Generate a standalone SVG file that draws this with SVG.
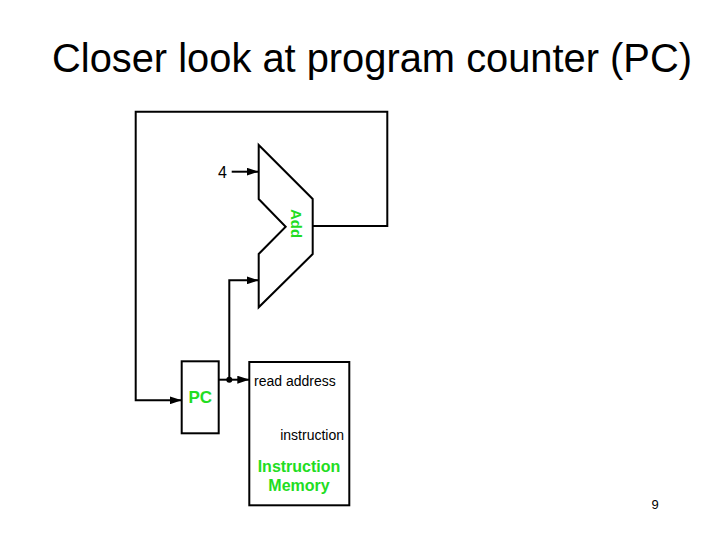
<svg xmlns="http://www.w3.org/2000/svg" width="720" height="540" viewBox="0 0 720 540">
<defs>
<marker id="ah" viewBox="0 0 12 8" refX="12" refY="4" markerWidth="6" markerHeight="4" orient="auto" markerUnits="strokeWidth">
<path d="M0,0 L12,4 L0,8 z" fill="#000"/>
</marker>
<style>
.w{fill:none;stroke:#000;stroke-width:2}
.b{fill:#fff;stroke:#000;stroke-width:2}
.t{font-family:"Liberation Sans",Arial,sans-serif;fill:#000}
.g{font-family:"Liberation Sans",Arial,sans-serif;fill:#22dd22;font-weight:bold}
</style>
</defs>
<rect width="720" height="540" fill="#fff"/>
<text class="t" x="52" y="72" font-size="40" textLength="640" lengthAdjust="spacingAndGlyphs">Closer look at program counter (PC)</text>
<g id="connectors">
<path class="w" d="M312.7,226 H387.3 V111.7 H135.7 V400.3 H181.7" marker-end="url(#ah)"/>
<path class="w" d="M231.7,171.7 H258.7" marker-end="url(#ah)"/>
<path class="w" d="M218.7,379.7 H249.3" marker-end="url(#ah)"/>
<path class="w" d="M229.3,379.7 V280.3 H258.7" marker-end="url(#ah)"/>
<circle cx="229.3" cy="379.7" r="3" fill="#000"/>
</g>
<g id="adder">
<path class="b" d="M258.7,145 L312.7,199 V254 L258.7,307.3 V254 L285.7,226.7 L258.7,199 Z"/>
<text class="g" font-size="15" text-anchor="middle" transform="translate(291,223.5) rotate(90)">Add</text>
</g>
<g id="four">
<text class="t" x="222.5" y="178" font-size="16" text-anchor="middle">4</text>
</g>
<g id="pc">
<rect class="b" x="181.7" y="361.3" width="37" height="72"/>
<text class="g" x="200.2" y="403" font-size="17" text-anchor="middle">PC</text>
</g>
<g id="imem">
<rect class="b" x="249.3" y="362" width="100" height="143.3"/>
<text class="t" x="254" y="386" font-size="14">read address</text>
<text class="t" x="344" y="440" font-size="14" text-anchor="end">instruction</text>
<text class="g" x="299" y="472" font-size="16" text-anchor="middle">Instruction</text>
<text class="g" x="299" y="491" font-size="16" text-anchor="middle">Memory</text>
</g>
<text class="t" x="655" y="509" font-size="13" text-anchor="middle">9</text>
</svg>
